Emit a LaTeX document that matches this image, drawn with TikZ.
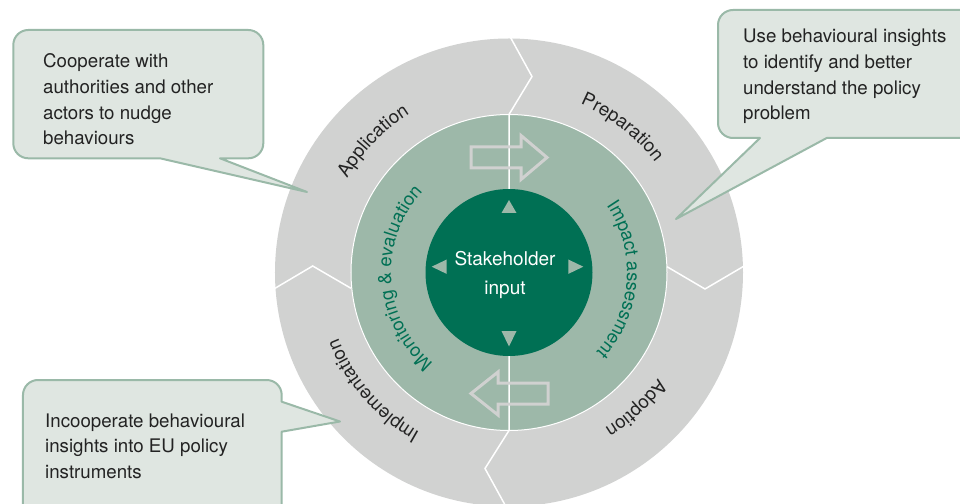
\documentclass[tikz,border=0pt]{standalone}
\usepackage{fontspec}
\setmainfont{TeX Gyre Heros}
\usetikzlibrary{decorations.text}

\definecolor{ringgray}{RGB}{209,210,209}
\definecolor{midgreen}{RGB}{157,184,169}
\definecolor{darkgreen}{RGB}{0,112,84}
\definecolor{calloutfill}{RGB}{223,230,225}
\definecolor{calloutline}{RGB}{154,185,168}
\definecolor{arrowgray}{RGB}{208,209,208}
\definecolor{textdark}{RGB}{35,35,35}

\newcommand\phasefont{\fontsize{18.6}{20}\selectfont\color{textdark}}
\newcommand\stagefont{\fontsize{18.4}{20}\selectfont\color{darkgreen}}

\begin{document}
\begin{tikzpicture}[x=1pt,y=1pt,
  callout/.style={draw=calloutline, fill=calloutfill, line width=2pt, line join=round},
  calltext/.style={anchor=west, align=left, inner sep=0pt, text=textdark, font=\fontsize{18.7}{25.6}\selectfont},
  seam/.style={draw=white, line width=1.5pt},
  blockarrow/.style={draw=arrowgray, line width=3pt},
  marker/.style={fill=midgreen}]
\useasboundingbox (-509,-230.5) rectangle (451,272.5);
\clip (-509,-230.5) rectangle (451,272.5);
\fill[white] (-509,-230.5) rectangle (451,272.5);

% rings
\fill[ringgray] (0,0) circle (234);
\fill[midgreen] (0,0) circle (158);
\draw[white, line width=1pt] (0,0) circle (158);

\draw[seam] (0,83.5) -- (0,158) -- (23,196) -- (1,236);
\draw[seam] (0,-83.5) -- (0,-158) -- (-24,-196) -- (-2,-236);
\draw[seam] (158,5.8) -- (196,-16.5) -- (236,7);
\draw[seam] (-236,-17) -- (-196.3,6.5) -- (-158,-15.8);

\draw[blockarrow] (-38,104.5) -- (12,104.5) -- (12,93) -- (38,115) -- (12,137) -- (12,125.5) -- (-38,125.5) -- cycle;
\draw[blockarrow] (39,-110.5) -- (-11,-110.5) -- (-11,-99.5) -- (-38,-121) -- (-11,-142.5) -- (-11,-131.5) -- (39,-131.5) -- cycle;

\node[circle, fill=darkgreen, minimum size=167pt, inner sep=0pt] (input) at (0,0) {};
\node[text=white, align=center, font=\fontsize{19}{29}\selectfont] (inputtext) at (-4,-2) {Stakeholder\\input};

\fill[marker] (0,72.5) -- (7.5,59.5) -- (-7.5,59.5) -- cycle;
\fill[marker] (0,-74) -- (7.5,-58.5) -- (-7.5,-58.5) -- cycle;
\fill[marker] (-77.3,5.8) -- (-62.3,13) -- (-62.3,-1.4) -- cycle;
\fill[marker] (74.3,5.8) -- (59.3,13) -- (59.3,-1.4) -- cycle;

% phase labels, read clockwise
\path[decorate, decoration={text along path, text align=center, text={|\phasefont|Application}}]
  (176:187) arc[start angle=176, end angle=96, radius=187];
\path[decorate, decoration={text along path, text align=center, text={|\phasefont|Preparation}}]
  (92:183) arc[start angle=92, end angle=12, radius=183];
\path[decorate, decoration={text along path, text align=center, text={|\phasefont|Adoption}}]
  (-7:183) arc[start angle=-7, end angle=-87, radius=183];
\path[decorate, decoration={text along path, text align=center, text={|\phasefont|Implementation}}]
  (261:183) arc[start angle=261, end angle=181, radius=183];
\path[decorate, decoration={text along path, text align=center, text={|\stagefont|Monitoring {\&} evaluation}}]
  (243.5:118) arc[start angle=243.5, end angle=123.5, radius=118];
\path[decorate, decoration={text along path, text align=center, text={|\stagefont|Impact assessment}}]
  (56:118) arc[start angle=56, end angle=-64, radius=118];

% callouts
\draw[callout] (-349,114.2) -- (-202,80.5) -- (-289,114.2) [rounded corners=15] -- (-245.7,114.2) -- (-245.7,242.5) -- (-495.7,242.5) -- (-495.7,114.2) [sharp corners] -- cycle;
\node[calltext] (apptext) at (-466,173) {Cooperate with\\authorities and other\\actors to nudge\\behaviours};

\draw[callout] (251,134.5) -- (167,53.5) -- (317.7,134.5) [rounded corners=15] -- (480,134.5) -- (480,262.5) -- (209,262.5) -- (209,134.5) [sharp corners] -- cycle;
\node[calltext] (preptext) at (234,196) {Use behavioural insights\\to identify and better\\understand the policy\\problem};

\draw[callout] (-227.3,-129.2) -- (-169,-149) -- (-227.3,-159.2) [rounded corners=15] -- (-227.3,-260) -- (-486,-260) -- (-486,-107.5) -- (-227.3,-107.5) [sharp corners] -- cycle;
\node[calltext] (impltext) at (-464,-173.5) {Incooperate behavioural\\insights into EU policy\\instruments};
\end{tikzpicture}
\end{document}
